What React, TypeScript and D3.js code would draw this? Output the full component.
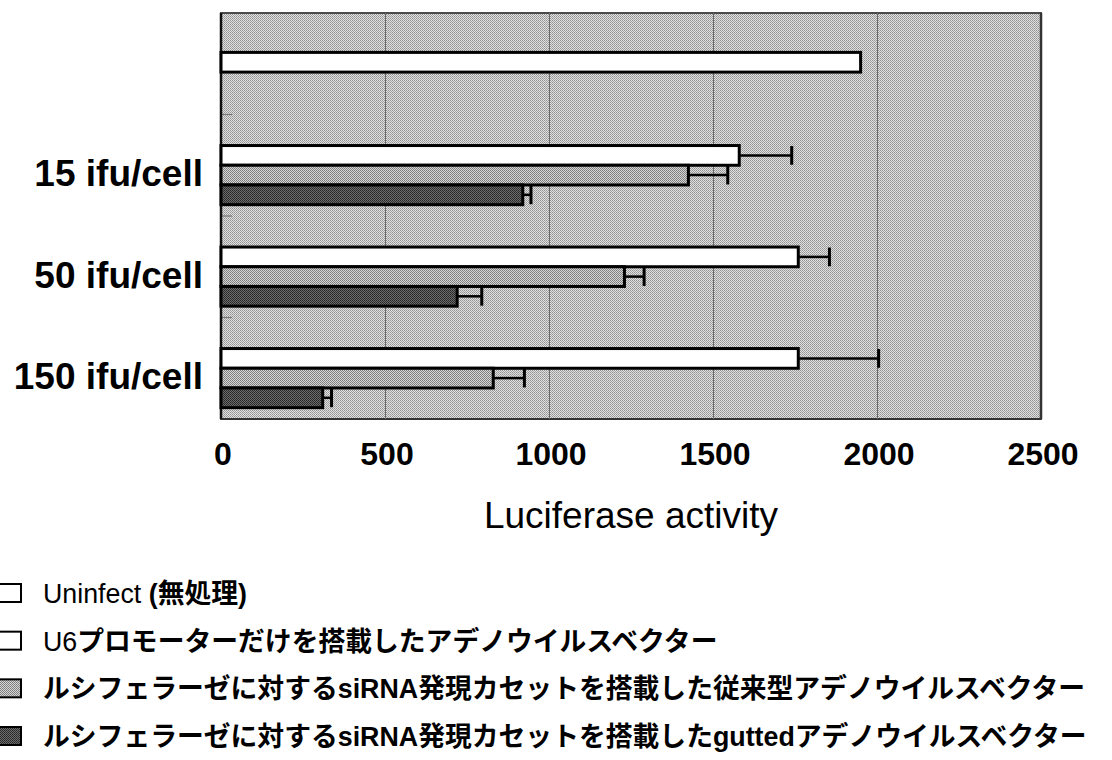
import React from "react";
import * as d3 from "d3";

// Category rows (top to bottom) and their axis labels
const groups = ["control", "15", "50", "150"];
const groupLabels = ["", "15 ifu/cell", "50 ifu/cell", "150 ifu/cell"];

// Series within a dose row
const seriesKeys = ["uninfect", "u6", "conv", "gutted"];

// Uninfected control (single bar in the top row)
const uninfectValue = 1950;

// Dose rows: 15, 50, 150 ifu/cell
const doseGroups = ["15", "50", "150"];
const u6Values = [1580, 1760, 1760];
const u6Errors = [160, 95, 245];
const convValues = [1425, 1230, 830];
const convErrors = [120, 60, 95];
const guttedValues = [920, 720, 310];
const guttedErrors = [25, 75, 27];

// X axis ticks
const xTicks = [0, 500, 1000, 1500, 2000, 2500];
const xTitle = "Luciferase activity";

// Legend entries
const legendLatin = ["Uninfect ", "U6", "", ""];
const legendRest = [
  "(無処理)",
  "プロモーターだけを搭載したアデノウイルスベクター",
  "ルシフェラーゼに対するsiRNA発現カセットを搭載した従来型アデノウイルスベクター",
  "ルシフェラーゼに対するsiRNA発現カセットを搭載したguttedアデノウイルスベクター",
];
const legendFills = ["#ffffff", "#ffffff", "url(#patLight)", "url(#patDark)"];

const W = 1112;
const H = 760;
const plot = { left: 221, right: 1041, top: 13, bottom: 419 };

export default function App() {
  const x = d3.scaleLinear().domain([0, 2500]).range([plot.left, plot.right]);
  const y = d3.scaleBand<string>().domain(groups).range([plot.top, plot.bottom]).padding(0);
  const inner = d3
    .scaleBand<string>()
    .domain(seriesKeys)
    .range([0, y.bandwidth()])
    .paddingInner(0)
    .paddingOuter(0.575);
  const bh = inner.bandwidth();

  type Bar = { key: string; y0: number; v: number; err: number; fill: string };
  const bars: Bar[] = [];
  // top row: one centred bar
  bars.push({
    key: "control-uninfect",
    y0: (y("control") as number) + y.bandwidth() / 2 - bh / 2 - 1.5,
    v: uninfectValue,
    err: 0,
    fill: "#ffffff",
  });
  doseGroups.forEach((g, i) => {
    const gy = y(g) as number;
    bars.push({ key: g + "-u6", y0: gy + (inner("u6") as number), v: u6Values[i], err: u6Errors[i], fill: "#ffffff" });
    bars.push({ key: g + "-conv", y0: gy + (inner("conv") as number), v: convValues[i], err: convErrors[i], fill: "url(#patLight)" });
    bars.push({ key: g + "-gutted", y0: gy + (inner("gutted") as number), v: guttedValues[i], err: guttedErrors[i], fill: "url(#patDark)" });
  });

  const legendY = d3.scaleLinear().domain([0, 3]).range([593, 736]);

  return (
    <svg width={W} height={H} style={{ position: "absolute", left: 0, top: 0 }}>
      <defs>
        <pattern id="patBg" width="2" height="2" patternUnits="userSpaceOnUse">
          <rect width="2" height="2" fill="#e0e0e0" />
          <rect x="0" y="0" width="1" height="1" fill="#929292" />
          <rect x="1" y="1" width="1" height="1" fill="#a4a4a4" />
        </pattern>
        <pattern id="patLight" width="2" height="2" patternUnits="userSpaceOnUse">
          <rect width="2" height="2" fill="#d6d6d6" />
          <rect x="0" y="0" width="1" height="1" fill="#7a7a7a" />
          <rect x="1" y="1" width="1" height="1" fill="#868686" />
        </pattern>
        <pattern id="patDark" width="2" height="2" patternUnits="userSpaceOnUse">
          <rect width="2" height="2" fill="#6c6c6c" />
          <rect x="0" y="0" width="1" height="1" fill="#262626" />
          <rect x="1" y="1" width="1" height="1" fill="#303030" />
        </pattern>
      </defs>
      <rect width={W} height={H} fill="#ffffff" />

      {/* plot background */}
      <rect
        x={plot.left}
        y={plot.top}
        width={plot.right - plot.left}
        height={plot.bottom - plot.top}
        fill="url(#patBg)"
        stroke="#4a4a4a"
        strokeWidth={1.5}
        shapeRendering="crispEdges"
      />
      <line x1={plot.right} x2={plot.right} y1={plot.top} y2={plot.bottom} stroke="#333" strokeWidth={2.5} />
      <line x1={plot.left} x2={plot.right} y1={plot.bottom} y2={plot.bottom} stroke="#333" strokeWidth={2} />

      {/* vertical gridlines */}
      {xTicks.slice(1, -1).map((t) => (
        <line key={"g" + t} x1={x(t)} x2={x(t)} y1={plot.top} y2={plot.bottom} stroke="#6a6a6a" strokeWidth={1} shapeRendering="crispEdges" />
      ))}

      {/* category separators */}
      {groups.slice(1).map((g) => (
        <line key={"s" + g} x1={plot.left} x2={plot.left + 11} y1={y(g) as number} y2={y(g) as number} stroke="#777" strokeWidth={1.2} />
      ))}

      {/* left axis */}
      <line x1={plot.left} x2={plot.left} y1={plot.top} y2={plot.bottom} stroke="#111" strokeWidth={2.5} />

      {/* bars */}
      {bars.map((b) => (
        <rect
          key={b.key}
          x={x(0)}
          y={b.y0}
          width={x(b.v) - x(0)}
          height={bh}
          fill={b.fill}
          stroke="#000"
          strokeWidth={3}
        />
      ))}

      {/* error bars (positive side) */}
      {bars
        .filter((b) => b.err > 0)
        .map((b) => {
          const cy = b.y0 + bh / 2;
          const xe = x(b.v + b.err);
          return (
            <g key={"e" + b.key} stroke="#000">
              <line x1={x(b.v)} x2={xe} y1={cy} y2={cy} strokeWidth={2.5} />
              <line x1={xe} x2={xe} y1={cy - bh / 2 + 0.5} y2={cy + bh / 2 - 0.5} strokeWidth={3} />
            </g>
          );
        })}

      {/* category labels */}
      {groups.map((g, i) => (
        <text
          key={"c" + g}
          x={203}
          y={(y(g) as number) + y.bandwidth() / 2 + 21}
          textAnchor="end"
          fontFamily="'Liberation Sans', Arial, sans-serif"
          fontWeight="bold"
          fontSize={37}
          fill="#000"
        >
          {groupLabels[i]}
        </text>
      ))}

      {/* x tick labels */}
      {xTicks.map((t) => (
        <text
          key={"t" + t}
          x={x(t) + 2}
          y={465}
          textAnchor="middle"
          fontFamily="'Liberation Sans', Arial, sans-serif"
          fontWeight="bold"
          fontSize={32}
          fill="#000"
        >
          {t}
        </text>
      ))}

      {/* x axis title */}
      <text
        x={(plot.left + plot.right) / 2}
        y={528}
        textAnchor="middle"
        fontFamily="'Liberation Sans', Arial, sans-serif"
        fontSize={37}
        fill="#000"
      >
        {xTitle}
      </text>

      {/* legend */}
      {legendRest.map((txt, i) => {
        const cy = legendY(i);
        return (
          <g key={"l" + i}>
            <rect x={-2} y={cy - 9} width={23} height={18} fill={legendFills[i]} stroke="#000" strokeWidth={2} />
            <text
              x={43}
              y={cy + 10}
              fontFamily="'Liberation Sans', 'Noto Sans CJK JP', sans-serif"
              fontWeight="bold"
              fontSize={26.8}
              fill="#000"
            >
              {legendLatin[i] && <tspan fontWeight="normal">{legendLatin[i]}</tspan>}
              <tspan>{txt}</tspan>
            </text>
          </g>
        );
      })}
    </svg>
  );
}
